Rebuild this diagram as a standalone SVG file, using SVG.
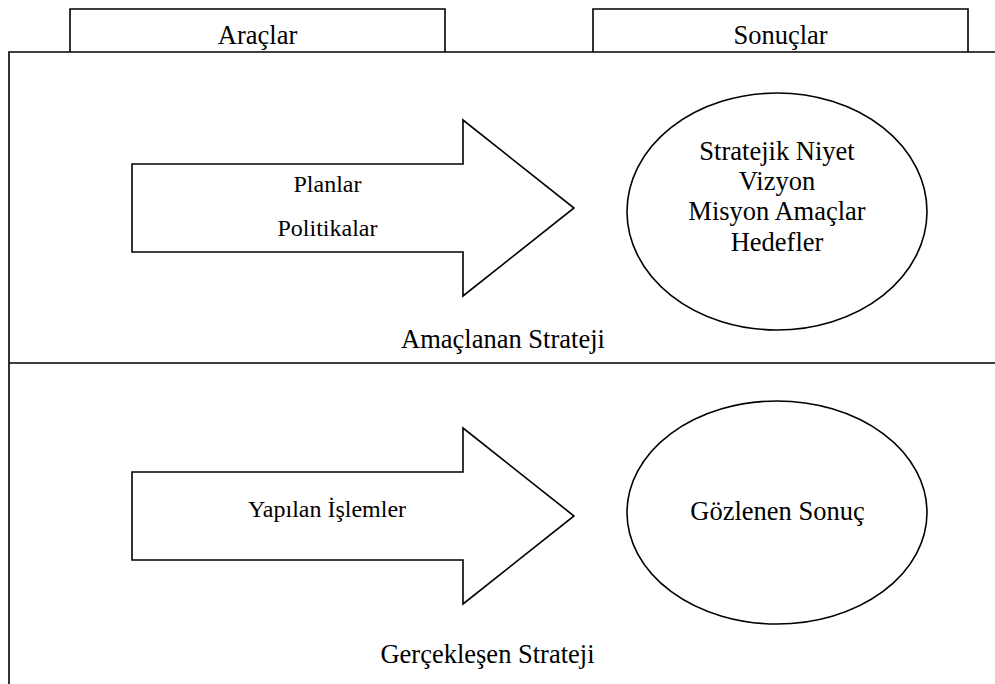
<svg xmlns="http://www.w3.org/2000/svg" width="995" height="684" viewBox="0 0 995 684">
<style>
.ln{fill:none;stroke:#000;stroke-width:1.6}
.sh{fill:#fff;stroke:#000;stroke-width:1.6;stroke-linejoin:miter}
text{font-family:"Liberation Serif","Times New Roman",serif;fill:#000;text-anchor:middle}
.t{font-size:26.5px}
.s{font-size:24px}
</style>
<rect width="995" height="684" fill="#fff"/>
<g id="tab-araclar">
<path class="ln" d="M70,52 V9 H445 V52"/>
<text class="t" x="257.5" y="44">Araçlar</text>
</g>
<g id="tab-sonuclar">
<path class="ln" d="M593,52 V9 H968 V52"/>
<text class="t" x="780.5" y="44">Sonuçlar</text>
</g>
<g id="frame">
<path class="ln" d="M9,684 V52 H995"/>
<path class="ln" d="M9,363 H995"/>
</g>
<g id="arrow-planned">
<path class="sh" d="M132,164 H463 V120 L574,208 L463,296 V252 H132 Z"/>
<text class="s" x="327.5" y="192">Planlar</text>
<text class="s" x="327.5" y="236">Politikalar</text>
</g>
<g id="ellipse-planned">
<ellipse class="sh" cx="777" cy="211.5" rx="150" ry="118.5"/>
<text class="t" x="777" y="160">Stratejik Niyet</text>
<text class="t" x="777" y="190">Vizyon</text>
<text class="t" x="777" y="220">Misyon Amaçlar</text>
<text class="t" x="777" y="251">Hedefler</text>
</g>
<g id="label-planned">
<text class="t" x="503" y="348">Amaçlanan Strateji</text>
</g>
<g id="arrow-realized">
<path class="sh" d="M132,472 H463 V428 L574,516 L463,604 V560 H132 Z"/>
<text class="s" x="327" y="517">Yapılan İşlemler</text>
</g>
<g id="ellipse-realized">
<ellipse class="sh" cx="777" cy="512.5" rx="150" ry="111.5"/>
<text class="t" x="777.5" y="520">Gözlenen Sonuç</text>
</g>
<g id="label-realized">
<text class="t" x="487.5" y="663">Gerçekleşen Strateji</text>
</g>
<g id="connectors"></g>
</svg>
